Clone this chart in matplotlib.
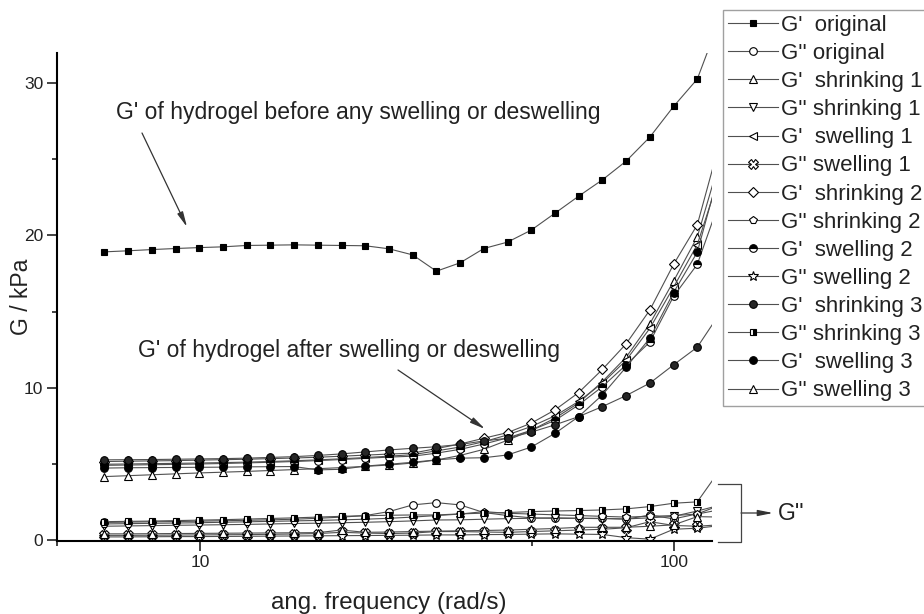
import numpy as np
import matplotlib
matplotlib.use("Agg")
import matplotlib.pyplot as plt
from matplotlib.ticker import FixedLocator, NullFormatter

plt.rcParams['font.family'] = ['Liberation Sans', 'DejaVu Sans']

W, H = 924, 614

# angular frequency: 1 Hz .. ~20 Hz, 20 points per decade (last one lies past the axis end)
steps = np.arange(27)
freq = 2 * np.pi * 10 ** (steps / 20)

g1_original = [18.92, 18.99, 19.07, 19.14, 19.20, 19.25, 19.34, 19.36, 19.38, 19.36, 19.34, 19.32, 19.12,
               18.72, 17.65, 18.20, 19.14, 19.56, 20.35, 21.46, 22.58, 23.65, 24.88, 26.46, 28.47, 30.27, 34.4]
g2_original = [1.15, 1.17, 1.19, 1.21, 1.23, 1.26, 1.29, 1.32, 1.36, 1.42, 1.50, 1.60, 1.86,
               2.30, 2.45, 2.30, 1.80, 1.60, 1.45, 1.42, 1.42, 1.42, 1.36, 1.64, 1.38, 1.71, 2.3]
g1_shrink1 = [4.16, 4.22, 4.28, 4.34, 4.40, 4.45, 4.50, 4.56, 4.62, 4.68, 4.75, 4.83, 4.92,
              5.05, 5.25, 5.55, 5.95, 6.55, 7.20, 8.00, 9.00, 10.4, 12.0, 14.2, 17.0, 19.9, 25.2]
g2_shrink1 = [0.90, 0.92, 0.94, 0.96, 0.98, 1.00, 1.02, 1.05, 1.08, 1.10, 1.13, 1.16, 1.20,
              1.25, 1.31, 1.32, 1.36, 1.40, 1.42, 1.45, 1.42, 1.40, 1.38, 1.45, 1.55, 1.90, 2.3]
g1_swell1 = [4.97, 4.99, 5.01, 5.03, 5.05, 5.08, 5.11, 5.15, 5.20, 5.26, 5.33, 5.41, 5.50,
             5.60, 5.85, 6.10, 6.45, 6.90, 7.45, 8.15, 9.10, 10.3, 11.8, 13.9, 16.6, 19.4, 24.2]
g2_swell1 = [0.30, 0.30, 0.31, 0.32, 0.33, 0.34, 0.35, 0.37, 0.39, 0.42, 0.50, 0.45, 0.42,
             0.45, 0.55, 0.55, 0.52, 0.50, 0.55, 0.60, 0.65, 0.70, 0.80, 1.20, 0.95, 0.90, 1.0]
g1_shrink2 = [5.15, 5.17, 5.19, 5.21, 5.24, 5.27, 5.30, 5.34, 5.38, 5.43, 5.50, 5.57, 5.64,
              5.70, 6.00, 6.30, 6.68, 7.05, 7.67, 8.54, 9.68, 11.2, 12.88, 15.1, 18.1, 20.7, 26.4]
g2_shrink2 = [1.05, 1.07, 1.09, 1.11, 1.13, 1.16, 1.19, 1.22, 1.25, 1.28, 1.32, 1.36, 1.42,
              1.50, 1.60, 1.70, 1.86, 1.75, 1.70, 1.65, 1.60, 1.55, 1.50, 1.55, 1.60, 1.70, 2.0]
g1_swell2 = [4.90, 4.92, 4.94, 4.96, 4.99, 5.02, 5.06, 5.10, 5.15, 5.21, 5.28, 5.36, 5.44,
             5.50, 5.70, 5.95, 6.30, 6.70, 7.20, 7.85, 8.87, 10.07, 11.5, 13.0, 16.0, 18.1, 22.5]
g2_swell2 = [0.20, 0.20, 0.21, 0.22, 0.22, 0.23, 0.24, 0.25, 0.26, 0.27, 0.28, 0.29, 0.30,
             0.31, 0.33, 0.33, 0.35, 0.36, 0.38, 0.40, 0.38, 0.36, 0.15, 0.05, 0.70, 0.77, 0.95]
g1_shrink3 = [5.26, 5.27, 5.28, 5.30, 5.32, 5.34, 5.37, 5.42, 5.47, 5.55, 5.65, 5.78, 5.91,
              6.02, 6.12, 6.27, 6.50, 6.68, 7.08, 7.56, 8.10, 8.76, 9.48, 10.30, 11.50, 12.66, 15.0]
g2_shrink3 = [1.20, 1.22, 1.24, 1.27, 1.30, 1.33, 1.37, 1.41, 1.45, 1.50, 1.55, 1.59, 1.62,
              1.64, 1.64, 1.71, 1.76, 1.80, 1.86, 1.90, 1.93, 1.97, 2.04, 2.19, 2.41, 2.50, 4.7]
g1_swell3 = [4.72, 4.74, 4.75, 4.76, 4.77, 4.78, 4.80, 4.81, 4.82, 4.60, 4.64, 4.85, 4.97,
             5.10, 5.26, 5.37, 5.40, 5.58, 6.10, 7.00, 8.10, 9.53, 11.35, 13.25, 16.25, 18.90, 24.6]
g2_swell3 = [0.40, 0.40, 0.41, 0.42, 0.43, 0.44, 0.45, 0.46, 0.47, 0.48, 0.65, 0.50, 0.52,
             0.55, 0.58, 0.60, 0.62, 0.65, 0.70, 0.75, 0.83, 0.83, 0.83, 0.90, 0.99, 1.53, 1.5]

labels = ["G'  original", "G'' original", "G'  shrinking 1", "G'' shrinking 1",
          "G'  swelling 1", "G'' swelling 1", "G'  shrinking 2", "G'' shrinking 2",
          "G'  swelling 2", "G'' swelling 2", "G'  shrinking 3", "G'' shrinking 3",
          "G'  swelling 3", "G'' swelling 3"]
series = [g1_original, g2_original, g1_shrink1, g2_shrink1, g1_swell1, g2_swell1,
          g1_shrink2, g2_shrink2, g1_swell2, g2_swell2, g1_shrink3, g2_shrink3,
          g1_swell3, g2_swell3]
# marker, size, face, fillstyle
styles = [('s', 4.6, 'black', 'full'), ('o', 5.5, 'white', 'full'), ('^', 6, 'white', 'full'),
          ('v', 6, 'white', 'full'), ('<', 6, 'white', 'full'), ('X', 6.5, 'white', 'full'),
          ('D', 4.8, 'white', 'full'), ('p', 6, 'white', 'full'), ('o', 5.5, 'black', 'top'),
          ('*', 7.5, 'white', 'full'), ('o', 5.5, '#262626', 'full'), ('s', 5, 'black', 'right'),
          ('o', 5.5, 'black', 'full'), ('^', 6, 'white', 'full')]

fig = plt.figure(figsize=(W / 100, H / 100), dpi=100)
ax = fig.add_axes([57.3 / W, 1 - 541 / H, (712 - 57.3) / W, (541 - 52.7) / H])

for vals, lab, (m, ms, fc, fs) in zip(series, labels, styles):
    ax.plot(freq, vals, color='#505050', lw=0.8, marker=m, ms=ms, mfc=fc, mec='black',
            mew=0.8, fillstyle=fs, markerfacecoloralt='white', label=lab)

ax.set_xscale('log')
ax.set_xlim(5, 120)
ax.set_ylim(-0.07, 32.0)

ax.spines['top'].set_visible(False)
ax.spines['right'].set_visible(False)
ax.spines['left'].set_linewidth(1.5)
ax.spines['bottom'].set_linewidth(1.5)

ax.xaxis.set_major_locator(FixedLocator([10, 100]))
ax.xaxis.set_minor_locator(FixedLocator([5, 50]))
ax.xaxis.set_minor_formatter(NullFormatter())
ax.set_xticklabels(['10', '100'])
ax.yaxis.set_major_locator(FixedLocator([0, 10, 20, 30]))
ax.yaxis.set_minor_locator(FixedLocator([5, 15, 25]))
ax.tick_params(which='major', direction='out', length=7, width=1.2, labelsize=12.5,
               colors='#222222', pad=3)
ax.tick_params(which='minor', direction='out', length=3.5, width=1.2, colors='#222222')

ax.set_xlabel('ang. frequency (rad/s)', fontsize=17.4, color='#222222')
ax.set_ylabel('G / kPa', fontsize=16.5, color='#222222')
ax.xaxis.set_label_coords((389 - 57.3) / 654.7, (541 - 603) / 488.3)
ax.xaxis.label.set_va('center')
ax.yaxis.set_label_coords((21.7 - 57.3) / 654.7, (541 - 296.7) / 488.3)
ax.yaxis.label.set_va('center')


def px(x, y):
    # top-left pixel position -> figure pixels
    return (x, H - y)


arrow = dict(arrowstyle='-|>,head_length=0.9,head_width=0.18', color='#333333', lw=0.9,
             shrinkA=0, shrinkB=0)
fig.text(116 / W, 1 - 113 / H, "G' of hydrogel before any swelling or deswelling",
         fontsize=16.5, va='center', ha='left', color='#222222')
ax.annotate('', xy=px(187, 227), xytext=px(142, 133), xycoords='figure pixels',
            textcoords='figure pixels', arrowprops=arrow)
fig.text(138 / W, 1 - 351 / H, "G' of hydrogel after swelling or deswelling",
         fontsize=16.5, va='center', ha='left', color='#222222')
ax.annotate('', xy=px(485, 429), xytext=px(398, 370), xycoords='figure pixels',
            textcoords='figure pixels', arrowprops=arrow)

# bracket around the G'' curves
bx = [718, 741, 741, 718]
by = [484, 484, 542, 542]
fig.add_artist(plt.Line2D([x / W for x in bx], [1 - y / H for y in by],
                          color='#444444', lw=0.9))
ax.annotate('', xy=px(773, 513), xytext=px(741, 513), xycoords='figure pixels',
            textcoords='figure pixels', arrowprops=arrow)
fig.text(778 / W, 1 - 513 / H, "G''", fontsize=16.5, va='center', ha='left', color='#222222')

leg = ax.legend(loc='upper left', bbox_to_anchor=(723 / W, 1 - 10 / H),
                bbox_transform=fig.transFigure, fontsize=16, handlelength=2.25,
                handletextpad=0.16, labelspacing=0.32, borderpad=0.22, borderaxespad=0,
                frameon=True, fancybox=False)
leg.get_frame().set_edgecolor('#888888')
leg.get_frame().set_linewidth(1.0)
for t in leg.get_texts():
    t.set_color('#222222')

fig.savefig('out.png', dpi=100)
